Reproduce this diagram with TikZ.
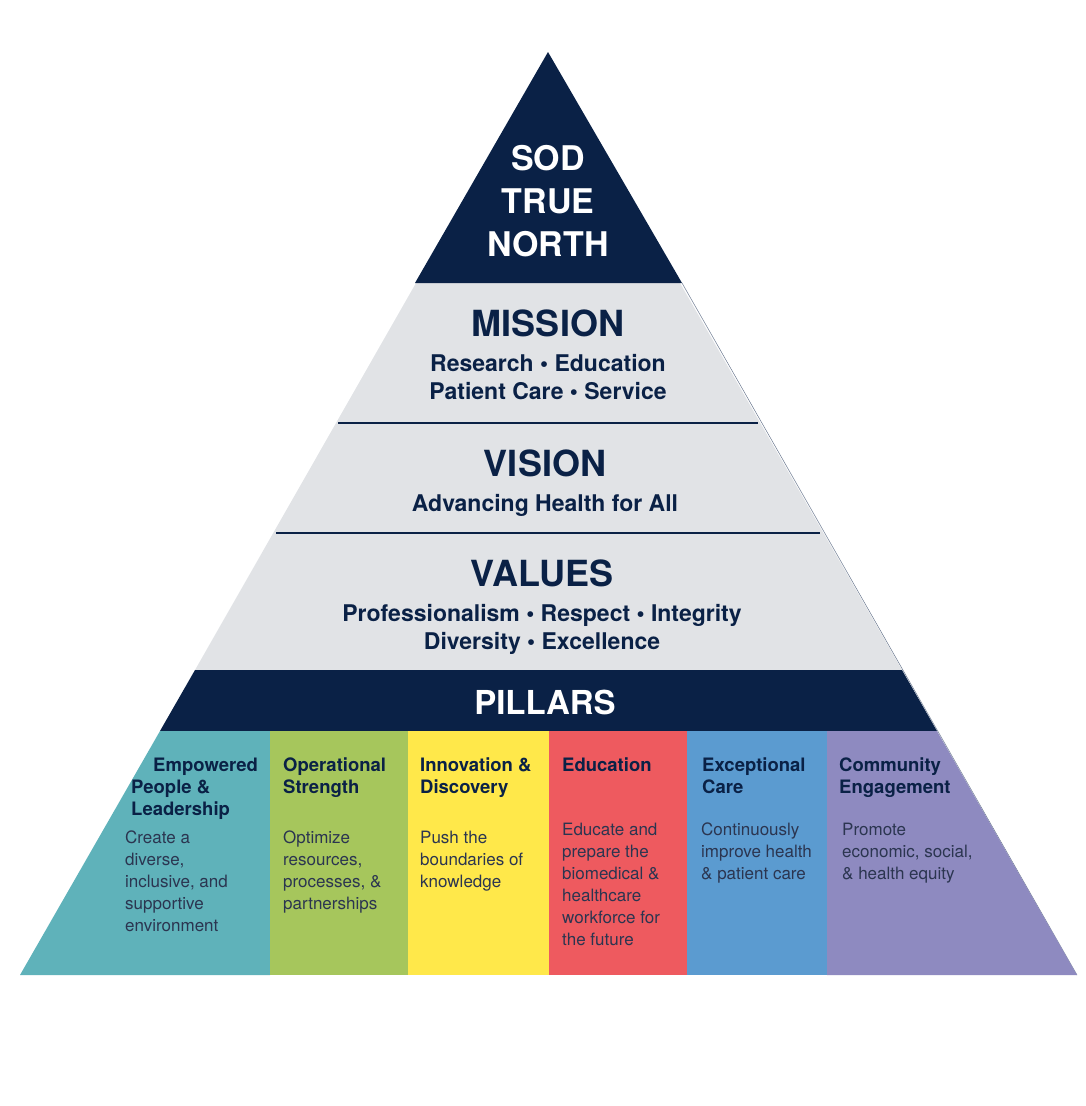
\documentclass[tikz,border=0pt]{standalone}
\usepackage{fontspec}
\setmainfont{TeX Gyre Heros}
\usetikzlibrary{positioning}
\definecolor{navy}{HTML}{0A2146}
\definecolor{band}{HTML}{E1E3E6}
\definecolor{cteal}{HTML}{5FB2BA}
\definecolor{cgreen}{HTML}{A6C65C}
\definecolor{cyellow}{HTML}{FFE84A}
\definecolor{cred}{HTML}{EE5A5F}
\definecolor{cblue}{HTML}{5B9BD0}
\definecolor{cpurple}{HTML}{8E8AC0}
\definecolor{bodytext}{HTML}{2B3550}
\tikzset{
    title/.style={
        text=navy,
        font=\fontsize{36}{43}\selectfont\bfseries,
        align=center,
        inner sep=0pt
    },
    sub/.style={
        text=navy,
        font=\fontsize{23}{28}\selectfont\bfseries,
        align=center,
        inner sep=0pt
    },
    head/.style={
        text=navy,
        font=\fontsize{18.5}{22}\selectfont\bfseries,
        align=left,
        anchor=north west,
        inner sep=0pt
    },
    body/.style={
        text=bodytext,
        font=\fontsize{17}{22}\selectfont,
        align=left,
        anchor=north west,
        inner sep=0pt
    },
    sep/.style={
        draw=navy,
        line width=1.2pt
    }
}
\begin{document}
\begin{tikzpicture}[x=1pt, y=-1pt]
\useasboundingbox (0,0) rectangle (1086,1106);

% bands
\fill[band] (416,283) -- (680,283) -- (902,670) -- (195,670) -- cycle;
\fill[navy] (548,52) -- (682,283) -- (415,283) -- cycle;
\fill[navy] (195,670) -- (902,670) -- (937,731) -- (160,731) -- cycle;
\draw[navy!60, line width=0.5pt] (682,283) -- (1077,975);
\draw[sep] (338,423) -- (758,423);
\draw[sep] (276,533) -- (820,533);

% pillar columns
\fill[cteal] (160,731) -- (270,731) -- (270,975) -- (20,975) -- cycle;
\fill[cgreen] (270,731) rectangle (408,975);
\fill[cyellow] (408,731) rectangle (549,975);
\fill[cred] (549,731) rectangle (687,975);
\fill[cblue] (687,731) rectangle (827,975);
\fill[cpurple] (827,731) -- (937,731) -- (1077,975) -- (827,975) -- cycle;

% top texts
\node[title, text=white, font=\fontsize{34}{43}\selectfont\bfseries] (north) at (548,201) {SOD\\TRUE\\NORTH};
\node[title] (mission) at (548,323) {MISSION};
\node[sub, below=17pt of mission] (missiontxt) {Research • Education\\Patient Care • Service};
\node[title] (vision) at (545,463) {VISION};
\node[sub, below=17pt of vision] (visiontxt) {Advancing Health for All};
\node[title] (values) at (542,573) {VALUES};
\node[sub, below=17pt of values] (valuestxt) {Professionalism • Respect • Integrity\\Diversity • Excellence};
\node[title, text=white, font=\fontsize{33}{40}\selectfont\bfseries] (pillars) at (545,702) {PILLARS};

% pillar texts
\node[head] (h1) at (131,758) {\hspace*{22pt}Empowered\\People \&\\Leadership};
\node[body] (b1) at (125,831) {Create a\\diverse,\\inclusive, and\\supportive\\environment};
\node[head] (h2) at (283,758) {Operational\\Strength};
\node[body] (b2) at (283,831) {Optimize\\resources,\\processes, \&\\partnerships};
\node[head] (h3) at (420,758) {Innovation \&\\Discovery};
\node[body] (b3) at (420,831) {Push the\\boundaries of\\knowledge};
\node[head] (h4) at (562,758) {Education};
\node[body] (b4) at (562,823) {Educate and\\prepare the\\biomedical \&\\healthcare\\workforce for\\the future};
\node[head] (h5) at (702,758) {Exceptional\\Care};
\node[body] (b5) at (701,823) {Continuously\\improve health\\\& patient care};
\node[head] (h6) at (839,758) {Community\\Engagement};
\node[body] (b6) at (842,823) {Promote\\economic, social,\\\& health equity};
\end{tikzpicture}
\end{document}
